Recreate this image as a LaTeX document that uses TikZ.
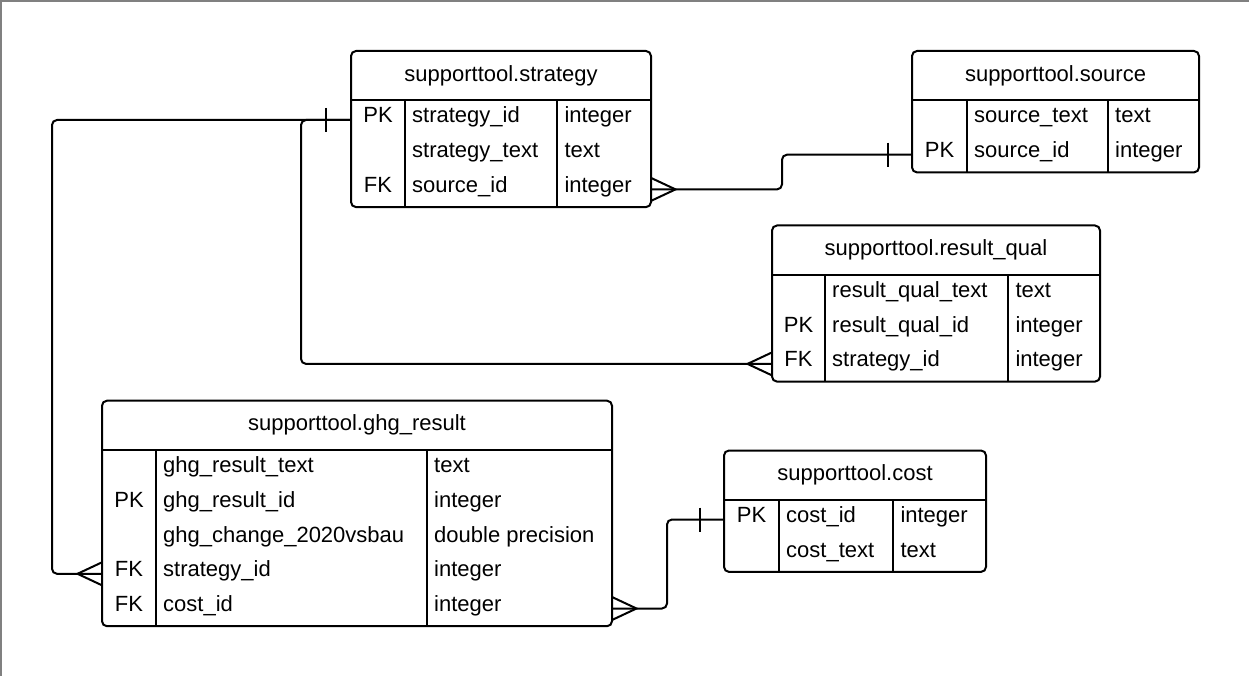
\documentclass[tikz,border=0pt]{standalone}
\usepackage{fontspec}
\setmainfont{Liberation Sans}

% One entity table: name, title, left x, key/name divider, name/type divider,
% right x, top y, number of rows, rows as key/name/type
\newcommand\ertable[9]{%
  \pgfmathsetmacro\erHead{#7+49.5}%
  \pgfmathsetmacro\erBot{\erHead+34.7*#8+2.5}%
  \pgfmathsetmacro\erW{#6-#3}%
  \pgfmathsetmacro\erH{\erBot-#7}%
  \node[tablebox, anchor=north west, minimum width=\erW pt, minimum height=\erH pt] (#1) at (#3,#7) {};
  \draw[rule] (#3,\erHead) -- (#6,\erHead);
  \draw[rule] (#4,\erHead) -- (#4,\erBot);
  \draw[rule] (#5,\erHead) -- (#5,\erBot);
  \node[cell, anchor=base] (#1-title) at ({(#3+#6)/2},{(#7+\erHead)/2+5.5}) {#2};
  \foreach \k/\n/\t [count=\i] in {#9} {
    \pgfmathsetmacro\erBase{\erHead+22.5+34.7*(\i-1)}
    \node[cell, anchor=base] (#1-k\i) at ({(#3+#4)/2},\erBase) {\k};
    \node[cell, anchor=base west] (#1-n\i) at (#4+7,\erBase) {\n};
    \node[cell, anchor=base west] (#1-t\i) at (#5+7,\erBase) {\t};
    \coordinate (#1-w\i) at (#3,\erBase-3);
    \coordinate (#1-e\i) at (#6,\erBase-3);
  }%
}

\tikzset{
  tablebox/.style={draw=black, line width=2pt, rounded corners=5pt, inner sep=0pt, outer sep=0pt, fill=white},
  rule/.style={draw=black, line width=2pt},
  cell/.style={inner sep=0pt, text=black},
  conn/.style={draw=black, line width=2pt, rounded corners=5pt},
  foot/.style={draw=black, line width=2pt, line join=miter},
  frameline/.style={draw=black!50, line width=2.2pt},
}

\begin{document}
\begin{tikzpicture}[x=1pt, y=-1pt, font=\fontsize{22}{26}\selectfont]
  \useasboundingbox (0,0) rectangle (1249,676);
  \fill[white] (0,0) rectangle (1249,676);
  \draw[frameline] (1.1,676) -- (1.1,1.1) -- (1249,1.1);

  \ertable{strategy}{supporttool.strategy}{351}{405}{557.3}{651}{51}{3}
    {PK/strategy\_id/integer, /strategy\_text/text, FK/source\_id/integer}
  \ertable{source}{supporttool.source}{912}{967}{1108}{1199}{51}{2}
    {/source\_text/text, PK/source\_id/integer}
  \ertable{rq}{supporttool.result\_qual}{772}{825}{1008.3}{1100}{225.5}{3}
    {/result\_qual\_text/text, PK/result\_qual\_id/integer, FK/strategy\_id/integer}
  \ertable{ghg}{supporttool.ghg\_result}{102}{156}{427}{612}{400.7}{5}
    {/ghg\_result\_text/text, PK/ghg\_result\_id/integer, /ghg\_change\_2020vsbau/double precision, FK/strategy\_id/integer, FK/cost\_id/integer}
  \ertable{cost}{supporttool.cost}{724}{779}{893.3}{986}{450.5}{2}
    {PK/cost\_id/integer, /cost\_text/text}

  % strategy (one) -> ghg_result (many)
  \draw[conn] (strategy-w1) -| ([xshift=-50pt]ghg-w4) -- (ghg-w4);
  % strategy (one) -> result_qual (many)
  \draw[conn] (strategy-w1) -- ([xshift=-50pt]strategy-w1) |- (rq-w3);
  % strategy (many) -> source (one)
  \draw[conn] (strategy-e3) -| ([xshift=-130pt]source-w2) -- (source-w2);
  % ghg_result (many) -> cost (one)
  \draw[conn] (ghg-e5) -| ([xshift=-57pt]cost-w1) -- (cost-w1);

  % "one" ticks
  \draw[foot] ([xshift=-25pt,yshift=12pt]strategy-w1) -- ([xshift=-25pt,yshift=-12pt]strategy-w1);
  \draw[foot] ([xshift=-24.5pt,yshift=12pt]source-w2) -- ([xshift=-24.5pt,yshift=-12pt]source-w2);
  \draw[foot] ([xshift=-24.5pt,yshift=12pt]cost-w1) -- ([xshift=-24.5pt,yshift=-12pt]cost-w1);

  % "many" crow's feet
  \draw[foot] ([yshift=11.5pt]ghg-w4) -- ([xshift=-24.5pt]ghg-w4) -- ([yshift=-11.5pt]ghg-w4);
  \draw[foot] ([yshift=11.5pt]rq-w3) -- ([xshift=-24.5pt]rq-w3) -- ([yshift=-11.5pt]rq-w3);
  \draw[foot] ([yshift=11.5pt]strategy-e3) -- ([xshift=24.5pt]strategy-e3) -- ([yshift=-11.5pt]strategy-e3);
  \draw[foot] ([yshift=11.5pt]ghg-e5) -- ([xshift=24.5pt]ghg-e5) -- ([yshift=-11.5pt]ghg-e5);
\end{tikzpicture}
\end{document}
